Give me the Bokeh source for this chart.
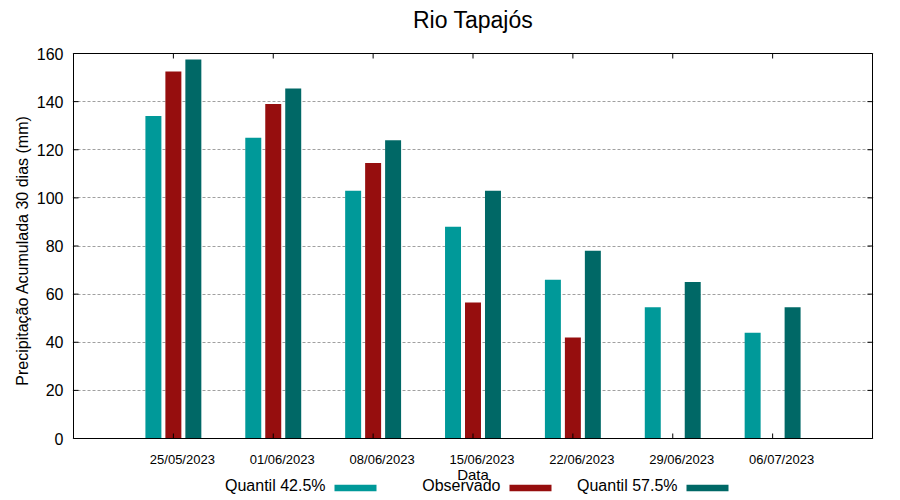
from bokeh.plotting import figure
from bokeh.models import FixedTicker, Range1d, ColumnDataSource, Title
from bokeh.embed import file_html
from bokeh.resources import INLINE
from bokeh.core.properties import value
from bokeh.transform import dodge

# ---- data ----
chart_title = "Rio Tapajós"
x_title = "Data"
y_title = "Precipitação Acumulada 30 dias (mm)"
dates = ["25/05/2023", "01/06/2023", "08/06/2023", "15/06/2023",
         "22/06/2023", "29/06/2023", "06/07/2023"]
q425 = [134.0, 125.0, 103.0, 88.0, 66.0, 54.5, 44.0]
obs = [152.5, 139.0, 114.5, 56.5, 42.0, float("nan"), float("nan")]
q575 = [157.5, 145.5, 124.0, 103.0, 78.0, 65.0, 54.5]
series_names = ["Quantil 42.5%", "Observado", "Quantil 57.5%"]
y_ticks = [0, 20, 40, 60, 80, 100, 120, 140, 160]

# ---- style / layout (pixels) ----
FONT = "Liberation Sans"
colors = ["#009999", "#960e0e", "#006866"]
W, H = 900, 500
PLOT_L, PLOT_R, PLOT_T, PLOT_B = 73, 872, 53, 438   # plot box in page pixels
TICK = 5
Y_MIN, Y_MAX = 0, 160
X_MIN, X_MAX = -1, len(dates)

kx = (PLOT_R - PLOT_L) / (X_MAX - X_MIN)
ky = (PLOT_B - PLOT_T) / (Y_MAX - Y_MIN)

def px_x(px):
    return X_MIN + (px - PLOT_L) / kx

def px_y(py):
    return Y_MIN + (PLOT_B - py) / ky

idx = list(range(len(dates)))
src = ColumnDataSource(dict(x=idx, q425=q425, obs=obs, q575=q575))

# frame spans the full canvas height and 1px beyond the plot box sideways
p = figure(width=W, height=H,
           x_range=Range1d(px_x(PLOT_L - 1), px_x(PLOT_R + 1)),
           y_range=Range1d(px_y(H), px_y(0)),
           output_backend="svg", toolbar_location=None, title=None,
           x_axis_location=None,
           min_border_left=PLOT_L - 1, min_border_right=W - PLOT_R - 1,
           min_border_top=0, min_border_bottom=0)

# bars
for off, key, col in zip([-0.2, 0.0, 0.2], ["q425", "obs", "q575"], colors):
    p.vbar(x=dodge("x", off, range=p.x_range), top=key, bottom=0, width=0.16,
           source=src, fill_color=col, line_color=None)

# plot box
p.quad(left=[X_MIN], right=[X_MAX], bottom=[Y_MIN], top=[Y_MAX],
       fill_color=None, line_color="black", line_width=1)

# inward tick marks
ty = TICK / ky
tx = TICK / kx
n, m = len(idx), len(y_ticks)
p.segment(x0=idx, y0=[Y_MIN] * n, x1=idx, y1=[Y_MIN + ty] * n, line_color="black")
p.segment(x0=idx, y0=[Y_MAX] * n, x1=idx, y1=[Y_MAX - ty] * n, line_color="black")
p.segment(x0=[X_MAX] * m, y0=y_ticks, x1=[X_MAX - tx] * m, y1=y_ticks, line_color="black")
p.segment(x0=[X_MIN] * m, y0=y_ticks, x1=[X_MIN + tx] * m, y1=y_ticks, line_color="black")

# chart title
p.text(x=[(X_MIN + X_MAX) / 2], y=[px_y(19)], text=[chart_title],
       text_align="center", text_baseline="alphabetic", text_font=value(FONT),
       text_font_size="23px", text_color="black")

# date labels under the groups
p.text(x=[i + 0.09 for i in idx], y=[px_y(459)] * n, text=dates,
       text_align="center", text_baseline="alphabetic", text_font=value(FONT),
       text_font_size="13px", text_color="black")

# x title
p.text(x=[(X_MIN + X_MAX) / 2], y=[px_y(473.7)], text=[x_title],
       text_align="center", text_baseline="alphabetic", text_font=value(FONT),
       text_font_size="15px", text_color="black")

# legend: text then swatch
LEG_RIGHT = [325, 500, 677]
LEG_TEXT = 485.2
LEG_BOT, LEG_TOP = 490.7, 484.3
p.text(x=[px_x(r) for r in LEG_RIGHT], y=[px_y(LEG_TEXT)] * 3, text=series_names,
       text_align="right", text_baseline="alphabetic", text_font=value(FONT),
       text_font_size="16px", text_color="black")
p.quad(left=[px_x(r + 9) for r in LEG_RIGHT], right=[px_x(r + 51) for r in LEG_RIGHT],
       bottom=[px_y(LEG_BOT)] * 3, top=[px_y(LEG_TOP)] * 3,
       fill_color=colors, line_color=None)

# left axis: labels only
ya = p.yaxis[0]
ya.ticker = FixedTicker(ticks=y_ticks)
ya.major_tick_in = 0
ya.major_tick_out = 0
ya.minor_tick_line_color = None
ya.axis_line_color = None
ya.major_label_text_font = FONT
ya.major_label_text_font_size = "16px"
ya.major_label_text_color = "black"
ya.major_label_standoff = 9

# y title
p.add_layout(Title(text=y_title, align="center", offset=-1, standoff=6,
                   text_font=FONT, text_font_size="16px",
                   text_font_style="normal", text_color="black"), "left")

p.xgrid.visible = False
p.ygrid.ticker = FixedTicker(ticks=y_ticks)
p.ygrid.grid_line_color = "#a0a0a0"
p.ygrid.grid_line_dash = "3 2"
p.ygrid.grid_line_width = 1
p.outline_line_color = None

open("out.html", "w").write(file_html(p, INLINE))
